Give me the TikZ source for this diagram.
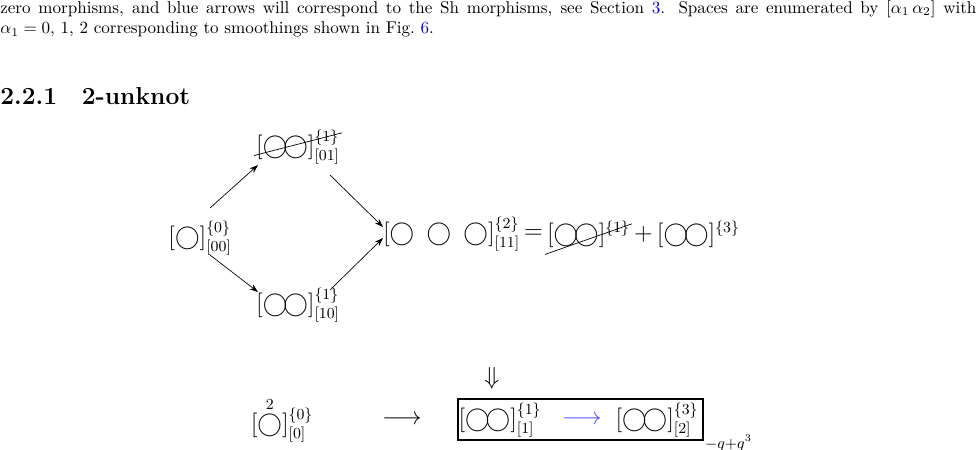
\documentclass[tikz,border=0pt]{standalone}
\usepackage{amsmath,amssymb}
\usepackage{xcolor}
\usetikzlibrary{arrows.meta}
\usetikzlibrary{positioning}
\definecolor{linkblue}{RGB}{0,0,220}
\definecolor{shblue}{RGB}{80,80,255}
\newcommand{\cc}{\bigcirc}
\newcommand{\dfont}{\fontsize{13.5pt}{16pt}\selectfont}
\begin{document}
\begin{tikzpicture}[x=0.586pt,y=-0.586pt,
    space style/.style={inner sep=1pt,font=\dfont},
    morph/.style={-{Stealth[length=5pt,width=3.5pt]},thin},
    strike/.style={thin}
  ]
  \useasboundingbox (0,0) rectangle (977,450);
  % running text
  \node[anchor=north west,text width=572pt,align=justify,inner sep=0pt,font=\normalsize] (txt) at (0,0)
  {zero morphisms, and blue arrows will correspond to the Sh morphisms, see Section~\textcolor{linkblue}{3}. Spaces are enumerated by $[\alpha_1\,\alpha_2]$ with\linebreak
   $\alpha_1=0$, 1, 2 corresponding to smoothings shown in Fig.~\textcolor{linkblue}{6}.};
  \node[anchor=west,inner sep=0pt,font=\Large\bfseries] (sec) at (0,96) {2.2.1\quad 2-unknot};

  % cube of resolutions
  \node[space style] (s00) at (200,238) {$[\cc]^{\{0\}}_{[00]}$};
  \node[space style] (s01) at (298,147) {$[\cc\!\cc]^{\{1\}}_{[01]}$};
  \node[space style] (s10) at (298,305) {$[\cc\!\cc]^{\{1\}}_{[10]}$};
  \node[space style,anchor=west] (s11) at (381,234) {$[\cc\;\cc\;\cc]^{\{2\}}_{[11]}$};
  \node[space style,right=0pt of s11] (eq) {$=$};
  \node[space style,right=0pt of eq] (sdrop) {$[\cc\!\cc]^{\{1\}}$};
  \node[space style,right=0pt of sdrop] (plus) {$+$};
  \node[space style,right=0pt of plus] (s3) {$[\cc\!\cc]^{\{3\}}$};
  \draw[strike] ([yshift=-5pt]s01.west) -- ([yshift=-3pt]s01.north east);
  \draw[strike] ([yshift=-3pt]sdrop.south west) -- ([yshift=-3pt]sdrop.north east);

  \coordinate (a1) at (210,208); \coordinate (b1) at (258,165);
  \coordinate (a2) at (330,175); \coordinate (b2) at (383,227);
  \coordinate (a3) at (210,255); \coordinate (b3) at (258,292);
  \coordinate (a4) at (330,290); \coordinate (b4) at (383,238);
  \draw[morph] (a1) -- (b1);
  \draw[morph] (a2) -- (b2);
  \draw[morph] (a3) -- (b3);
  \draw[morph] (a4) -- (b4);

  \node[font=\Large] (imp) at (492,378) {$\Downarrow$};

  % complex
  \node[space style] (c0) at (282,420) {$[\overset{2}{\cc}]^{\{0\}}_{[0]}$};
  \node[font=\Large] (arr0) at (402,420) {$\longrightarrow$};
  \node[space style] (c1) at (500,420) {$[\cc\!\cc]^{\{1\}}_{[1]}$};
  \node[font=\Large,text=shblue] (arr1) at (582,420) {$\longrightarrow$};
  \node[space style] (c2) at (657,420) {$[\cc\!\cc]^{\{3\}}_{[2]}$};
  \draw[semithick] (458,399) rectangle (703,440);
  \node[anchor=west,inner sep=1pt,font=\small] (poly) at (703,443) {$-q{+}q^3$};
\end{tikzpicture}
\end{document}
